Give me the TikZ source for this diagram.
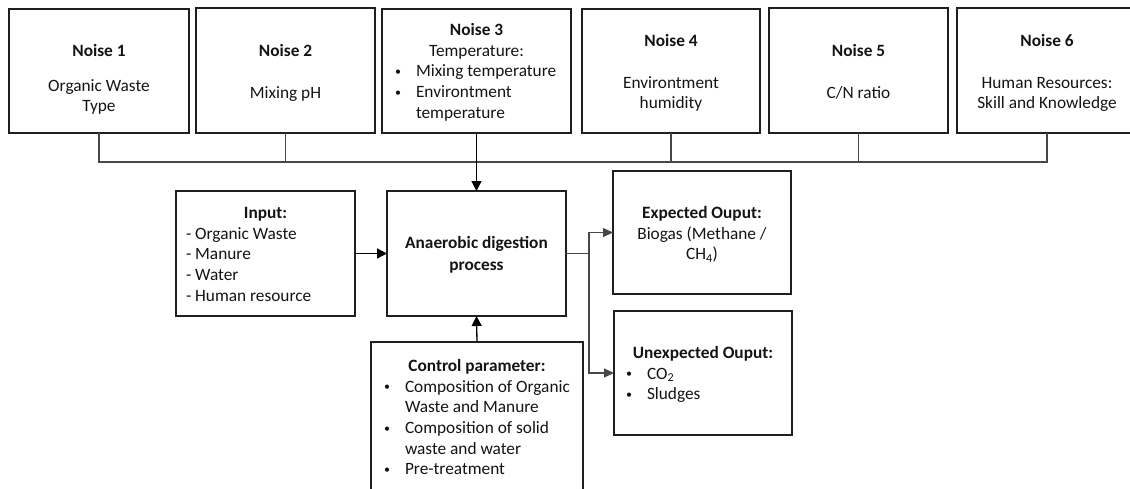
\documentclass[tikz,border=0pt]{standalone}
\usepackage{fontspec}
\setmainfont{Carlito}
\usetikzlibrary{arrows.meta}
\tikzset{
  every node/.style={font=\fontsize{17.3}{20.7}\selectfont, inner sep=0pt, outer sep=0pt, text=black!92},
  box/.style={draw=black!88, line width=1.6pt},
  conn/.style={draw=black!72, line width=1.1pt},
  arr/.style={draw=black, line width=1.3pt, -{Triangle[length=10pt,width=10pt]}},
  garr/.style={draw=black!72, line width=1.1pt, -{Triangle[length=10pt,width=9pt]}},
}
\newcommand{\bul}[1]{\hspace*{#1}\makebox[21pt][l]{\raisebox{1.5pt}{\fontsize{12}{12}\selectfont •}}}
\begin{document}
\begin{tikzpicture}[x=1pt,y=-1pt]
\useasboundingbox (0,0) rectangle (1130,488);
\clip (0,0) rectangle (1130,488);
% noise boxes
\node[box] (n1) at (99,71) {\parbox[c][124pt][t]{180pt}{\centering\vspace*{33pt}\strut\textbf{Noise 1}\\[14pt]Organic Waste\\Type}};
\node[box] (n2) at (285.5,70.5) {\parbox[c][125pt][t]{179pt}{\centering\vspace*{34pt}\strut\textbf{Noise 2}\\[21pt]Mixing pH}};
\node[box] (n3) at (476.5,71) {\parbox[c][124pt][t]{189pt}{\centering\vspace*{12pt}\strut\textbf{Noise 3}\\Temperature:\par\raggedright
  \bul{13pt}Mixing temperature\\
  \bul{13pt}Environtment\\
  \hspace*{34pt}temperature}};
\node[box] (n4) at (671,71) {\parbox[c][124pt][t]{178pt}{\centering\vspace*{23pt}\strut\textbf{Noise 4}\\[21pt]Environtment\\humidity}};
\node[box] (n5) at (858.5,70.5) {\parbox[c][125pt][t]{179pt}{\centering\vspace*{34pt}\strut\textbf{Noise 5}\\[21pt]C/N ratio}};
\node[box] (n6) at (1047,70.5) {\parbox[c][125pt][t]{180pt}{\centering\vspace*{24pt}\strut\textbf{Noise 6}\\[21pt]Human Resources:\\Skill and Knowledge}};
% middle row
\node[box] (input) at (265.5,253.5) {\parbox[c][125pt][t]{179pt}{\centering\vspace*{13pt}\strut\textbf{Input:}\par\raggedright
  \hspace*{10pt}- Organic Waste\\
  \hspace*{10pt}- Manure\\
  \hspace*{10pt}- Water\\
  \hspace*{10pt}- Human resource}};
\node[box] (ad) at (476.5,253.5) {\parbox[c][125pt][t]{179pt}{\centering\vspace*{43pt}\strut\textbf{Anaerobic digestion}\\[1pt]\textbf{process}}};
\node[box] (exp) at (702,232.5) {\parbox[c][123pt][t]{178pt}{\centering\vspace*{33pt}\strut\textbf{Expected Ouput:}\\Biogas (Methane /\\CH\textsubscript{4})}};
\node[box] (unexp) at (703,373) {\parbox[c][124pt][t]{178pt}{\centering\vspace*{33pt}\strut\textbf{Unexpected Ouput:}\par\raggedright
  \bul{12pt}CO\textsubscript{2}\\
  \bul{12pt}Sludges}};
\node[box] (ctrl) at (477,422) {\parbox[c][160pt][t]{212pt}{\centering\vspace*{15pt}\strut\textbf{Control parameter:}\par\raggedright
  \bul{13pt}Composition of Organic\\
  \hspace*{34pt}Waste and Manure\\
  \bul{13pt}Composition of solid\\
  \hspace*{34pt}waste and water\\
  \bul{13pt}Pre-treatment}};
% connectors
\coordinate (bus) at (476.5,162);
\draw[conn] (n1.south) |- (bus) -| (n6.south);
\draw[conn] (n2.south) -- (n2.south |- bus);
\draw[conn] (n4.south) -- (n4.south |- bus);
\draw[conn] (n5.south) -- (n5.south |- bus);
\draw[arr] (n3.south) -- (ad.north);
\draw[arr] (input.east) -- (ad.west);
\draw[arr] (ctrl.north) -- (ad.south);
\coordinate (split) at (589,253.5);
\draw[garr] (ad.east) -- (split) |- (exp.west);
\draw[garr] (split) |- (unexp.west);
\end{tikzpicture}
\end{document}
